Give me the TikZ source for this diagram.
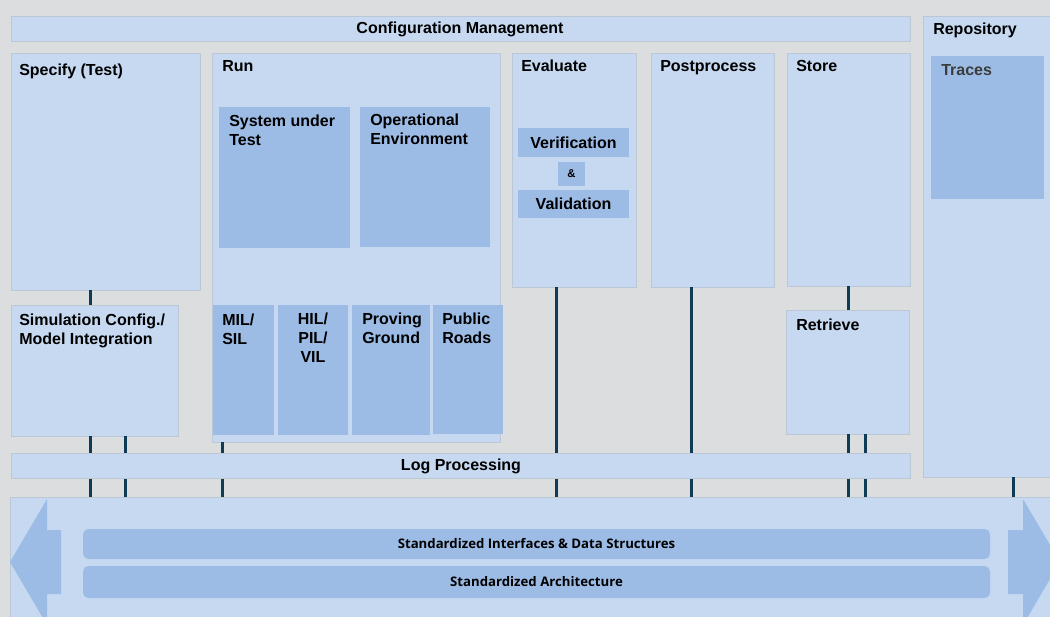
\documentclass[tikz,border=0pt]{standalone}
\usepackage{fontspec}
\setmainfont{Liberation Sans}
\newfontfamily\barfont{Open Sans}
\usetikzlibrary{fit}
\definecolor{bgc}{HTML}{DCDDDF}
\definecolor{lite}{HTML}{C6D9F1}
\definecolor{dark}{HTML}{9CBCE6}
\definecolor{edge}{HTML}{BCC7D5}
\definecolor{navy}{HTML}{0E3B55}
\definecolor{tracegray}{HTML}{3C3C3C}
\begin{document}
\begin{tikzpicture}[x=0.75pt,y=-0.75pt,
 lbox/.style={fill=lite,draw=edge,line width=0.3pt,inner sep=0pt},
 dbox/.style={fill=dark,draw=none,inner sep=0pt},
 lbl/.style={font=\bfseries\fontsize{12}{14.25}\selectfont,inner sep=0pt,align=left,text=black},
 conn/.style={draw=navy,line width=2.2pt},
 bar/.style={fill=dark,draw=none,rounded corners=4pt,inner sep=0pt},
 bartxt/.style={font=\barfont\bfseries\fontsize{9.9}{11}\selectfont,inner sep=0pt},
 arrowshape/.style={fill=dark,draw=none}
]
\useasboundingbox (0,0) rectangle (1050,617);
\fill[bgc] (0,0) rectangle (1050,617);

% bottom band with arrows
\begin{scope}
\clip (0,0) rectangle (1050,617);
\node[lbox,fit={(10,497)(1051,620)}] (band) {};
\fill[arrowshape] (10,562) -- (47,499) -- (47,530) -- (61,530) -- (61,594) -- (47,594) -- (47,625) -- cycle;
\fill[arrowshape] (1060,562) -- (1023,499) -- (1023,530) -- (1008,530) -- (1008,594) -- (1023,594) -- (1023,625) -- cycle;
\end{scope}
\node[bar,fit={(83,529)(990,559)}] (sids) {};
\node[bar,fit={(83,566)(990,598)}] (sarch) {};
\node[bartxt] at (sids.center) {Standardized Interfaces \& Data Structures};
\node[bartxt] at (sarch.center) {Standardized Architecture};

% top bar
\node[lbox,fit={(11,16)(910,41)}] (cm) {};
\node[lbl,anchor=base] at (460,34) {Configuration Management};

% repository
\node[lbox,fit={(923,16)(1051,477)}] (repo) {};
\node[lbl,anchor=base west] at (933,35) {Repository};
\node[dbox,fit={(931,56)(1044,199)}] (traces) {};
\node[lbl,anchor=base west,text=tracegray] at (941,75) {Traces};

% specify
\node[lbox,fit={(11,53)(200,290)}] (spec) {};
\node[lbl,anchor=base west] at (19,75) {Specify (Test)};

% simulation config
\node[lbox,fit={(11,305)(178,436)}] (sim) {};
\node[lbl,anchor=north west] at (19,314) {Simulation Config./\\Model Integration};

% run
\node[lbox,fit={(212,53)(500,442)}] (run) {};
\node[lbl,anchor=base west] at (222,72) {Run};
\node[dbox,fit={(219,107)(350,248)}] (sut) {};
\node[lbl,anchor=north west] at (229,115) {System under\\Test};
\node[dbox,fit={(360,107)(490,247)}] (openv) {};
\node[lbl,anchor=north west] at (370,114) {Operational\\Environment};
\node[dbox,fit={(213,305)(274,435)}] (mil) {};
\node[lbl,anchor=north west] at (222,314) {MIL/\\SIL};
\node[dbox,fit={(278,305)(348,435)}] (hil) {};
\node[lbl,anchor=north,align=center] at (313,313) {HIL/\\PIL/\\VIL};
\node[dbox,fit={(352,305)(430,435)}] (pg) {};
\node[lbl,anchor=north west] at (362,313) {Proving\\Ground};
\node[dbox,fit={(433,305)(503,434)}] (pr) {};
\node[lbl,anchor=north west] at (442,313) {Public\\Roads};

% evaluate
\node[lbox,fit={(512,53)(636,287)}] (eval) {};
\node[lbl,anchor=base west] at (521,72) {Evaluate};
\node[dbox,fit={(518,128)(629,157)}] (verif) {};
\node[lbl] at (verif.center) {Verification};
\node[dbox,fit={(558,162)(585,186)}] (amp) {};
\node[lbl,font=\bfseries\fontsize{8.5}{9}\selectfont] at (amp.center) {\&};
\node[dbox,fit={(518,190)(629,218)}] (valid) {};
\node[lbl] at (valid.center) {Validation};

% postprocess
\node[lbox,fit={(651,53)(774,287)}] (post) {};
\node[lbl,anchor=base west] at (660,72) {Postprocess};

% store
\node[lbox,fit={(787,53)(910,286)}] (store) {};
\node[lbl,anchor=base west] at (796,72) {Store};

% retrieve
\node[lbox,fit={(786,310)(909,434)}] (retr) {};
\node[lbl,anchor=base west] at (796,330) {Retrieve};

% connectors
\draw[conn] ([xshift=60pt]spec.south west) -- ([xshift=60pt]sim.north west);
\draw[conn] ([xshift=60pt]sim.south west) -- ([xshift=60pt]sim.south west |- band.north);
\draw[conn] ([xshift=86.25pt]sim.south west) -- ([xshift=86.25pt]sim.south west |- band.north);
\draw[conn] ([xshift=8.25pt]run.south west) -- ([xshift=8.25pt]run.south west |- band.north);
\draw[conn] ([xshift=33.75pt]eval.south west) -- ([xshift=33.75pt]eval.south west |- band.north);
\draw[conn] ([xshift=30.75pt]post.south west) -- ([xshift=30.75pt]post.south west |- band.north);
\draw[conn] ([xshift=46.5pt]store.south west) -- ([xshift=46.5pt]store.south west |- retr.north);
\draw[conn] ([xshift=47.25pt]retr.south west) -- ([xshift=47.25pt]retr.south west |- band.north);
\draw[conn] ([xshift=60pt]retr.south west) -- ([xshift=60pt]retr.south west |- band.north);
\draw[conn] ([xshift=68.25pt]repo.south west) -- ([xshift=68.25pt]repo.south west |- band.north);

% log processing (drawn over the connectors)
\node[lbox,fit={(11,453)(910,478)}] (log) {};
\node[lbl,anchor=base] at (461,470) {Log Processing};
\end{tikzpicture}
\end{document}
